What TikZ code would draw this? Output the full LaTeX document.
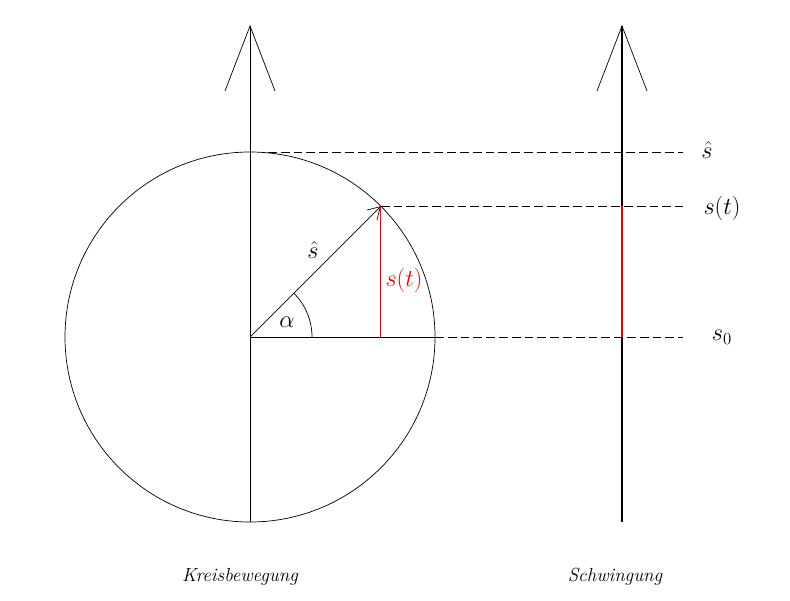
\documentclass[tikz,border=0pt]{standalone}
\usepackage{amsmath}
\usepackage{amssymb}
\usepackage{tikz}
\usetikzlibrary{arrows.meta}
\definecolor{amp}{HTML}{E8000B}

\begin{document}
\begin{tikzpicture}[
    axis/.style={-{Straight Barb[length=1.625cm,width=1.25cm,line width=0.5pt]}},
    proj/.style={dash pattern=on 0.22cm off 0.1cm},
    lbl/.style={font=\fontsize{17}{20}\selectfont},
    motion/.style={font=\fontsize{13.5}{16}\selectfont\itshape}
  ]
        \useasboundingbox (-6.25,-6.575) rectangle (13.5,8.425);

        \path
        (0,0) coordinate (O)
        (45:4.625) coordinate (P)
        (4.625,0) coordinate (A)
        (0,-4.625) coordinate (Lbot)
        (0,7.8) coordinate (Ltop)
        (9.3,-4.625) coordinate (Rbot)
        (9.3,7.8) coordinate (Rtop)
        (9.3,0) coordinate (R0)
        (R0 |- P) coordinate (Rt)
        (0.45,4.625) coordinate (Top)
        (10.825,4.625) coordinate (Tend)
        (10.825,0) coordinate (Aend)
        (Aend |- P) coordinate (Pend)
        (P |- O) coordinate (Pfoot)
        ;

        \path
        (11.425,4.675) node[lbl] (shat) {$\hat{s}$}
        (11.8,3.225) node[lbl] (st) {$s(t)$}
        (11.8,0) node[lbl] (s0) {$s_0$}
        (3.85,1.425) node[lbl,text=amp] (stred) {$s(t)$}
        (1.575,2.175) node[lbl] (rad) {$\hat{s}$}
        (0.925,0.375) node[lbl] (alpha) {$\alpha$}
        (-0.25,-6.0) node[motion] (kreis) {Kreisbewegung}
        (9.125,-6.0) node[motion] (schw) {Schwingung}
        ;

        \draw[line width=0.5pt] (O) circle (4.625);
        \draw[line width=0.6pt,axis] (Lbot) -- (Ltop);
        \draw[line width=0.9pt,axis] (Rbot) -- (Rtop);
        \draw[line width=0.5pt] (O) -- (A);
        \draw[line width=0.5pt] (1.55,0) arc (0:45:1.55);
        \draw[line width=0.5pt,-{Straight Barb[length=0.3cm,width=0.36cm]}] (O) -- (P);
        \draw[amp,line width=0.6pt] (P) -- (Pfoot);
        \draw[amp,line width=0.8pt] (Rt) -- (R0);

        \draw[proj,line width=0.6pt] (Top) -- (Tend);
        \draw[proj,line width=0.6pt] (P) -- (Pend);
        \draw[proj,line width=0.6pt] (A) -- (Aend);
      \end{tikzpicture}
\end{document}
